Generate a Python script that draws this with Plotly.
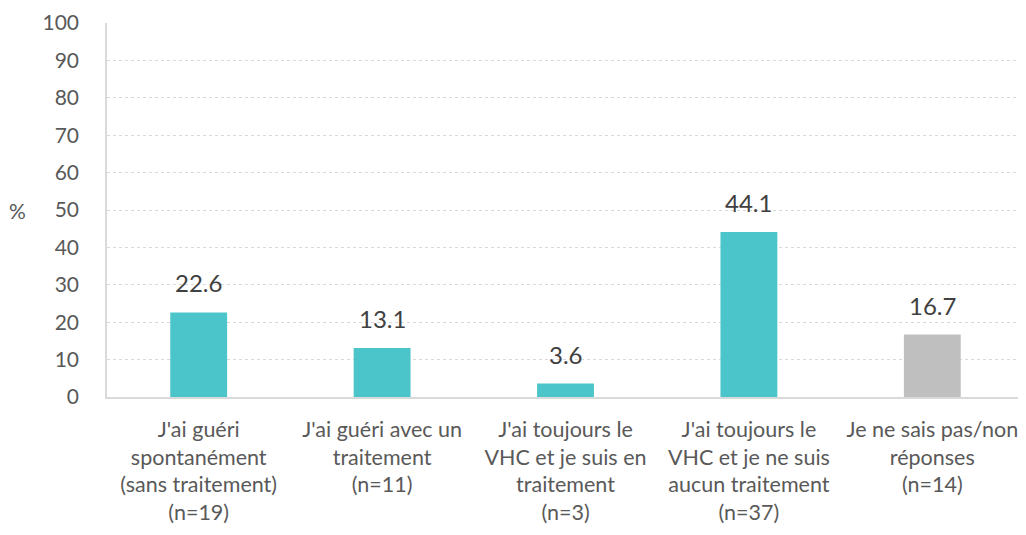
import plotly.graph_objects as go

categories = [
    "J'ai guéri<br>spontanément<br>(sans traitement)<br>(n=19)",
    "J'ai guéri avec un<br>traitement<br>(n=11)",
    "J'ai toujours le<br>VHC et je suis en<br>traitement<br>(n=3)",
    "J'ai toujours le<br>VHC et je ne suis<br>aucun traitement<br>(n=37)",
    "Je ne sais pas/non<br>réponses<br>(n=14)",
]
values = [22.6, 13.1, 3.6, 44.1, 16.7]
colors = ["#4BC5C9", "#4BC5C9", "#4BC5C9", "#4BC5C9", "#BFBFBF"]
y_ticks = [0, 10, 20, 30, 40, 50, 60, 70, 80, 90, 100]

FONT = "Lato, Carlito, sans-serif"

fig = go.Figure()
fig.add_trace(go.Bar(
    x=categories, y=values, marker=dict(color=colors, line=dict(width=0)),
    width=0.31, hoverinfo="skip",
))
for c, v in zip(categories, values):
    fig.add_annotation(x=c, y=v, text=f"{v:.1f}", showarrow=False,
                       yanchor="bottom", yshift=13,
                       font=dict(family=FONT, size=24, color="#404040"))

fig.add_annotation(xref="paper", yref="paper", x=-0.098, y=0.5, text="%",
                   showarrow=False, xanchor="center", yanchor="middle",
                   font=dict(family=FONT, size=21, color="#595959"))

fig.update_layout(
    width=1018, height=527,
    margin=dict(l=99, r=2, t=15, b=138, autoexpand=False),
    paper_bgcolor="white", plot_bgcolor="white",
    showlegend=False,
    font=dict(family=FONT, size=21, color="#595959"),
)
fig.update_yaxes(range=[0, 100], tickvals=y_ticks, showgrid=True,
                 gridcolor="#D9D9D9", griddash="dot", gridwidth=1,
                 showline=True, linecolor="#D9D9D9", linewidth=1.5,
                 zeroline=False, ticks="", ticklabelstandoff=22,
                 automargin=False,
                 tickfont=dict(family=FONT, size=21, color="#595959"))
fig.update_xaxes(showline=True, linecolor="#D9D9D9", linewidth=1.5,
                 ticks="", ticklabelstandoff=12, tickangle=0,
                 automargin=False,
                 tickfont=dict(family=FONT, size=21.5, color="#595959"))

fig.write_html("out.html")
